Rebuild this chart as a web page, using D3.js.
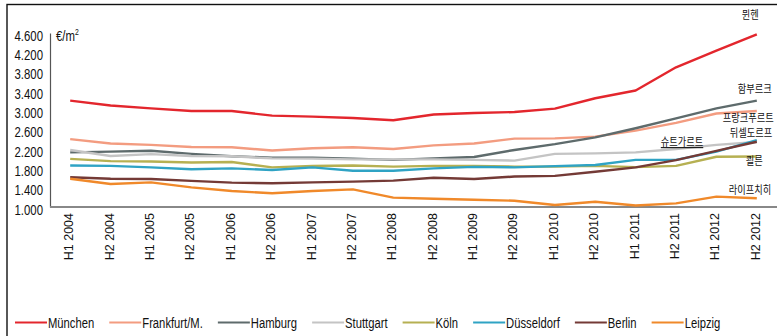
<!DOCTYPE html>
<html>
<head>
<meta charset="utf-8">
<script src="https://cdn.jsdelivr.net/npm/d3@7"></script>
<style>
  html, body { margin: 0; padding: 0; background: #fff; }
  svg { display: block; }
  text { font-family: "Liberation Sans", Arial, sans-serif; fill: #111; }
  .kr { font-family: "Noto Sans CJK KR", sans-serif; }
</style>
</head>
<body>
<svg id="chart" width="777" height="336"></svg>
<script>
// Half-year periods
const categories = [
  "H1 2004", "H2 2004", "H1 2005", "H2 2005", "H1 2006", "H2 2006",
  "H1 2007", "H2 2007", "H1 2008", "H2 2008", "H1 2009", "H2 2009",
  "H1 2010", "H2 2010", "H1 2011", "H2 2011", "H1 2012", "H2 2012"
];

// Cities in legend order, with their Korean annotation (Berlin has none)
const cities = ["München", "Frankfurt/M.", "Hamburg", "Stuttgart", "Köln", "Düsseldorf", "Berlin", "Leipzig"];
const koreanNames = ["뮌헨", "프랑크푸르트", "함부르크", "슈트가르트", "쾰른", "뒤셀도르프", null, "라이프치히"];

// Price per m² (EUR) for each city and half-year
const muenchen   = [3200, 3100, 3040, 2985, 2985, 2890, 2870, 2840, 2795, 2915, 2945, 2965, 3035, 3250, 3410, 3890, 4235, 4570];
const frankfurt  = [2405, 2315, 2285, 2240, 2235, 2170, 2215, 2235, 2200, 2275, 2315, 2415, 2420, 2455, 2580, 2740, 2935, 2985];
const hamburg    = [2130, 2145, 2165, 2100, 2050, 2020, 2020, 2000, 1975, 2005, 2035, 2180, 2300, 2440, 2630, 2835, 3040, 3200];
const stuttgart  = [2180, 2055, 2095, 2055, 2050, 2005, 2000, 1985, 1985, 1985, 1975, 1960, 2100, 2110, 2130, 2200, 2285, 2345];
const koeln      = [1995, 1950, 1940, 1920, 1930, 1820, 1850, 1860, 1835, 1850, 1850, 1835, 1835, 1850, 1825, 1850, 2040, 2045];
const duesseldorf= [1860, 1850, 1820, 1780, 1800, 1765, 1820, 1750, 1750, 1800, 1830, 1820, 1845, 1870, 1975, 1975, 2145, 2385];
const berlin     = [1615, 1585, 1580, 1540, 1505, 1490, 1510, 1525, 1545, 1605, 1580, 1630, 1645, 1730, 1820, 1970, 2160, 2350];
const leipzig    = [1585, 1475, 1510, 1405, 1330, 1285, 1330, 1365, 1195, 1170, 1150, 1130, 1040, 1110, 1030, 1075, 1215, 1180];

const seriesValues = [muenchen, frankfurt, hamburg, stuttgart, koeln, duesseldorf, berlin, leipzig];

// Y tick values
const yTicks = [1000, 1400, 1800, 2200, 2600, 3000, 3400, 3800, 4200, 4600];

// Line colours per city
const colors = ["#e3262d", "#f39c80", "#5e6b6c", "#c4c4c4", "#b6b052", "#2fa3c4", "#743a36", "#f0892a"];

// Offsets of the Korean annotations from each line's last point
const annotationOffsets = [
  [-15, -15], [-34, 11], [-19, -8], [-96, 4], [-11, 9], [-27, -3], null, [-28, -4]
];

const svg = d3.select("#chart");

// Outer frame (runs past the right and bottom edge)
svg.append("rect")
  .attr("x", 7).attr("y", 4.5)
  .attr("width", 900).attr("height", 500)
  .attr("fill", "none").attr("stroke", "#111").attr("stroke-width", 1.4);

const x = d3.scalePoint().domain(categories).range([50, 777]).padding(0.5);
const y = d3.scaleLinear().domain([1000, 4600]).range([207, 33]);

const de = d3.formatLocale({ decimal: ",", thousands: ".", grouping: [3], currency: ["", "€"] });
const fmt = de.format(",");

// Y axis
const yAxis = svg.append("g")
  .attr("transform", "translate(50,0)")
  .call(d3.axisLeft(y).tickValues(yTicks).tickFormat(fmt).tickSize(0).tickSizeOuter(0));
yAxis.select(".domain").attr("stroke", "#555").attr("stroke-width", 1.2);
yAxis.selectAll("text")
  .attr("x", 0).attr("dy", "0.34em")
  .attr("transform", "translate(-7,2) scale(0.76,1)")
  .style("font-size", "15px").attr("fill", "#111")
  .style("font-family", "'Liberation Sans', Arial, sans-serif");

// X axis
const xAxis = svg.append("g")
  .attr("transform", "translate(0,207)")
  .call(d3.axisBottom(x).tickSize(0).tickSizeOuter(0));
xAxis.select(".domain").attr("stroke", "#888").attr("stroke-width", 1.8)
  .attr("d", "M50,0H777");
xAxis.selectAll("text")
  .attr("y", 0).attr("x", -6).attr("dy", "0.2em")
  .attr("transform", "rotate(-90)")
  .attr("text-anchor", "end")
  .style("font-size", "12.5px").attr("fill", "#111")
  .style("font-family", "'Liberation Sans', Arial, sans-serif");

// Unit label
const unit = svg.append("text")
  .attr("transform", "translate(56,41) scale(0.76,1)")
  .style("font-size", "15px");
unit.append("tspan").text("€/m");
unit.append("tspan").attr("dy", -6).style("font-size", "9px").text("2");

// Series lines
const line = d3.line()
  .x((d, i) => x(categories[i]))
  .y(d => y(d));

svg.append("g").selectAll("path")
  .data(seriesValues)
  .join("path")
  .attr("d", line)
  .attr("fill", "none")
  .attr("stroke", (d, i) => colors[i])
  .attr("stroke-width", 2.4)
  .attr("stroke-linejoin", "round");

// Korean annotations next to line ends
const last = categories.length - 1;
koreanNames.forEach((name, i) => {
  if (!name) return;
  const [dx, dy] = annotationOffsets[i];
  const px = x(categories[last]) + dx;
  const py = y(seriesValues[i][last]) + dy;
  svg.append("text")
    .attr("class", "kr")
    .attr("transform", `translate(${px},${py}) scale(0.84,1)`)
    .style("font-size", "11px")
    .style("text-decoration", i === 3 ? "underline" : null)
    .text(name);
});

// Legend
const legend = svg.append("g").attr("transform", "translate(0,322.5)");
let lx = 15;
cities.forEach((c, i) => {
  legend.append("line")
    .attr("x1", lx).attr("x2", lx + 32)
    .attr("y1", 0).attr("y2", 0)
    .attr("stroke", colors[i]).attr("stroke-width", 2);
  const t = legend.append("text")
    .attr("transform", `translate(${lx + 33},5) scale(0.75,1)`)
    .style("font-size", "15px")
    .text(c);
  lx += 33 + t.node().getComputedTextLength() * 0.75 + 15;
});
</script>
</body>
</html>
